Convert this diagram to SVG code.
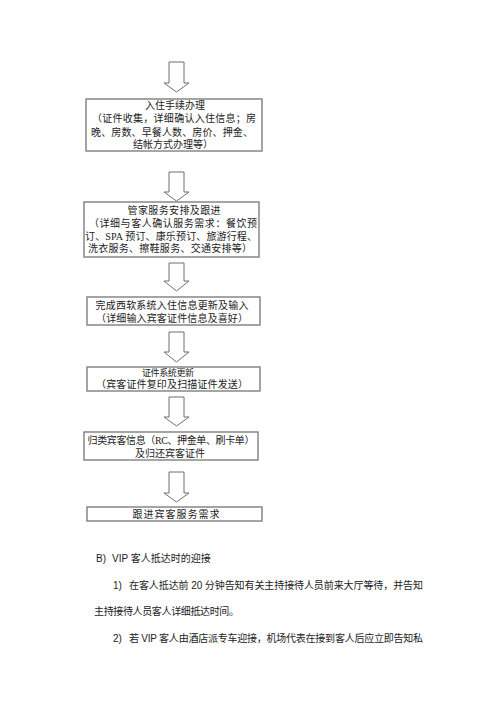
<svg xmlns="http://www.w3.org/2000/svg" width="500" height="707" viewBox="0 0 500 707">
<style>
.box{fill:#fff;stroke:#7f7f7f;stroke-width:1.4}
.arr{fill:#fff;stroke:#6f6f6f;stroke-width:1}
.bt{font-family:"Liberation Serif","Noto Sans CJK SC",serif;font-size:10px;fill:#222;text-anchor:middle}
.pt{font-family:"Liberation Sans","Noto Sans CJK SC",sans-serif;font-size:10px;fill:#222}
</style>
<rect width="500" height="707" fill="#fff"/>
<g id="connectors">
<path class="arr" d="M169,62 H184 V83 H189 L176.5,92 L164,83 H169 Z"/>
<path class="arr" d="M169,172 H184 V192 H189 L176.5,201 L164,192 H169 Z"/>
<path class="arr" d="M169,263 H184 V281 H189 L176.5,291 L164,281 H169 Z"/>
<path class="arr" d="M169,332 H184 V352 H189 L176.5,362 L164,352 H169 Z"/>
<path class="arr" d="M169,397 H184 V417 H189 L176.5,426 L164,417 H169 Z"/>
<path class="arr" d="M169,472 H184 V493 H189 L176.5,502 L164,493 H169 Z"/>
</g>
<g id="n1">
<rect class="box" x="86" y="99" width="176" height="52"/>
<text class="bt" x="175" y="109">入住手续办理</text>
<text class="bt" x="174" y="122" textLength="164">（证件收集，详细确认入住信息；房</text>
<text class="bt" x="172" y="136" textLength="162">晚、房数、早餐人数、房价、押金、</text>
<text class="bt" x="173" y="148">结帐方式办理等）</text>
</g>
<g id="n2">
<rect class="box" x="84" y="202" width="175" height="55"/>
<text class="bt" x="174" y="214" textLength="93">管家服务安排及跟进</text>
<text class="bt" x="173" y="227" textLength="168">（详细与客人确认服务需求：餐饮预</text>
<text class="bt" x="171" y="240" textLength="172">订、SPA 预订、康乐预订、旅游行程、</text>
<text class="bt" x="170" y="252" textLength="164">洗衣服务、擦鞋服务、交通安排等）</text>
</g>
<g id="n3">
<rect class="box" x="87" y="297" width="173" height="28"/>
<text class="bt" x="172" y="309" textLength="153">完成西软系统入住信息更新及输入</text>
<text class="bt" x="172" y="322" textLength="152">（详细输入宾客证件信息及喜好）</text>
</g>
<g id="n4">
<rect class="box" x="87" y="367" width="173" height="24"/>
<text class="bt" x="168" y="376" textLength="52" style="font-size:9px">证件系统更新</text>
<text class="bt" x="172" y="388" textLength="152">（宾客证件复印及扫描证件发送）</text>
</g>
<g id="n5">
<rect class="box" x="84" y="432" width="174" height="28"/>
<text class="bt" x="171" y="444" textLength="167">归类宾客信息（RC、押金单、刷卡单）</text>
<text class="bt" x="170" y="457">及归还宾客证件</text>
</g>
<g id="n6">
<rect class="box" x="87" y="507" width="175" height="14"/>
<text class="bt" x="176" y="518" textLength="87">跟进宾客服务需求</text>
</g>
<g id="body">
<text class="pt" x="96" y="562">B)</text>
<text class="pt" x="112" y="562">VIP 客人抵达时的迎接</text>
<text class="pt" x="113" y="589">1)</text>
<text class="pt" x="129" y="589" textLength="294">在客人抵达前 20 分钟告知有关主持接待人员前来大厅等待，并告知</text>
<text class="pt" x="94" y="615" textLength="145">主持接待人员客人详细抵达时间。</text>
<text class="pt" x="113" y="642">2)</text>
<text class="pt" x="129" y="642" textLength="294">若 VIP 客人由酒店派专车迎接，机场代表在接到客人后应立即告知私</text>
</g>
</svg>
